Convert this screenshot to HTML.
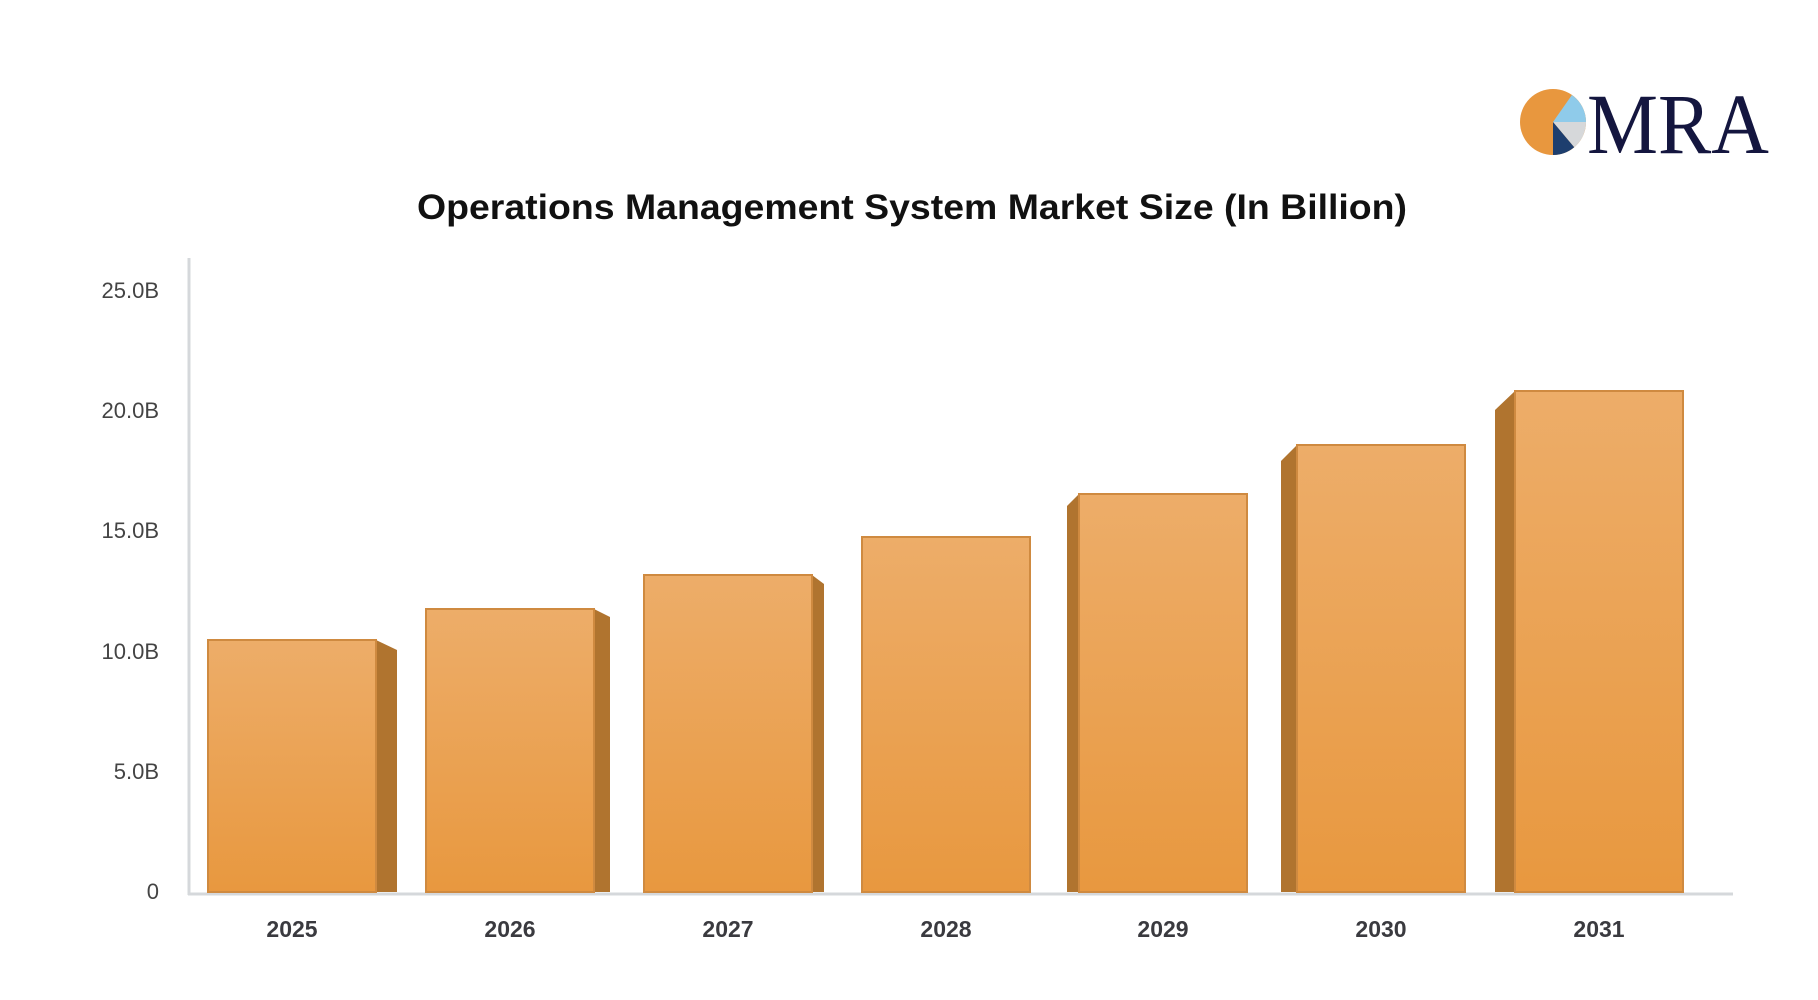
<!DOCTYPE html>
<html><head><meta charset="utf-8"><style>html,body{margin:0;padding:0;background:#fff}svg{display:block}</style></head>
<body>
<svg width="1818" height="1000" viewBox="0 0 1818 1000" xmlns="http://www.w3.org/2000/svg">
<defs>
<linearGradient id="g" x1="0" y1="0" x2="0" y2="1">
<stop offset="0" stop-color="#EDAD69"/><stop offset="1" stop-color="#E8983F"/>
</linearGradient>
</defs>
<rect width="1818" height="1000" fill="#fff"/>
<g transform="translate(1553,122)">
<circle r="33" fill="#E8973E"/>
<path d="M0 0 L18.9 -27 A33 33 0 0 1 33 0 Z" fill="#8FCBEA"/>
<path d="M0 0 L33 0 A33 33 0 0 1 21.2 25.3 Z" fill="#D6D8DA"/>
<path d="M0 0 L21.2 25.3 A33 33 0 0 1 0 33 Z" fill="#1D3E6E"/>
</g>
<text x="1587" y="153" font-family="Liberation Serif, serif" font-size="86" fill="#14163F" textLength="182" lengthAdjust="spacingAndGlyphs">MRA</text>
<text x="912" y="219" text-anchor="middle" font-family="Liberation Sans, sans-serif" font-weight="bold" font-size="35" fill="#111" textLength="990" lengthAdjust="spacingAndGlyphs">Operations Management System Market Size (In Billion)</text>
<g font-family="Liberation Sans, sans-serif" font-size="22" fill="#444" text-anchor="end">
<text x="159" y="298">25.0B</text>
<text x="159" y="418">20.0B</text>
<text x="159" y="538">15.0B</text>
<text x="159" y="659">10.0B</text>
<text x="159" y="779">5.0B</text>
<text x="159" y="899">0</text>
</g>
<line x1="189" y1="258" x2="189" y2="895" stroke="#D5D8DB" stroke-width="3"/>
<line x1="188" y1="894" x2="1733" y2="894" stroke="#D5D8DB" stroke-width="3"/>
<g stroke="#CF8A40" stroke-width="2">
<polygon points="376,640 397,650 397,892 376,892" fill="#B0742F" stroke="none"/>
<rect x="208" y="640" width="168" height="252" fill="url(#g)"/>
<polygon points="594,609 610,617 610,892 594,892" fill="#B0742F" stroke="none"/>
<rect x="426" y="609" width="168" height="283" fill="url(#g)"/>
<polygon points="812,575 824,584 824,892 812,892" fill="#B0742F" stroke="none"/>
<rect x="644" y="575" width="168" height="317" fill="url(#g)"/>
<rect x="862" y="537" width="168" height="355" fill="url(#g)"/>
<polygon points="1079,494 1067,506 1067,892 1079,892" fill="#B0742F" stroke="none"/>
<rect x="1079" y="494" width="168" height="398" fill="url(#g)"/>
<polygon points="1297,445 1281,461 1281,892 1297,892" fill="#B0742F" stroke="none"/>
<rect x="1297" y="445" width="168" height="447" fill="url(#g)"/>
<polygon points="1515,391 1495,410 1495,892 1515,892" fill="#B0742F" stroke="none"/>
<rect x="1515" y="391" width="168" height="501" fill="url(#g)"/>
</g>
<g font-family="Liberation Sans, sans-serif" font-size="23" font-weight="bold" fill="#3a3a3f" text-anchor="middle">
<text x="292" y="937">2025</text>
<text x="510" y="937">2026</text>
<text x="728" y="937">2027</text>
<text x="946" y="937">2028</text>
<text x="1163" y="937">2029</text>
<text x="1381" y="937">2030</text>
<text x="1599" y="937">2031</text>
</g>
</svg>
</body></html>
